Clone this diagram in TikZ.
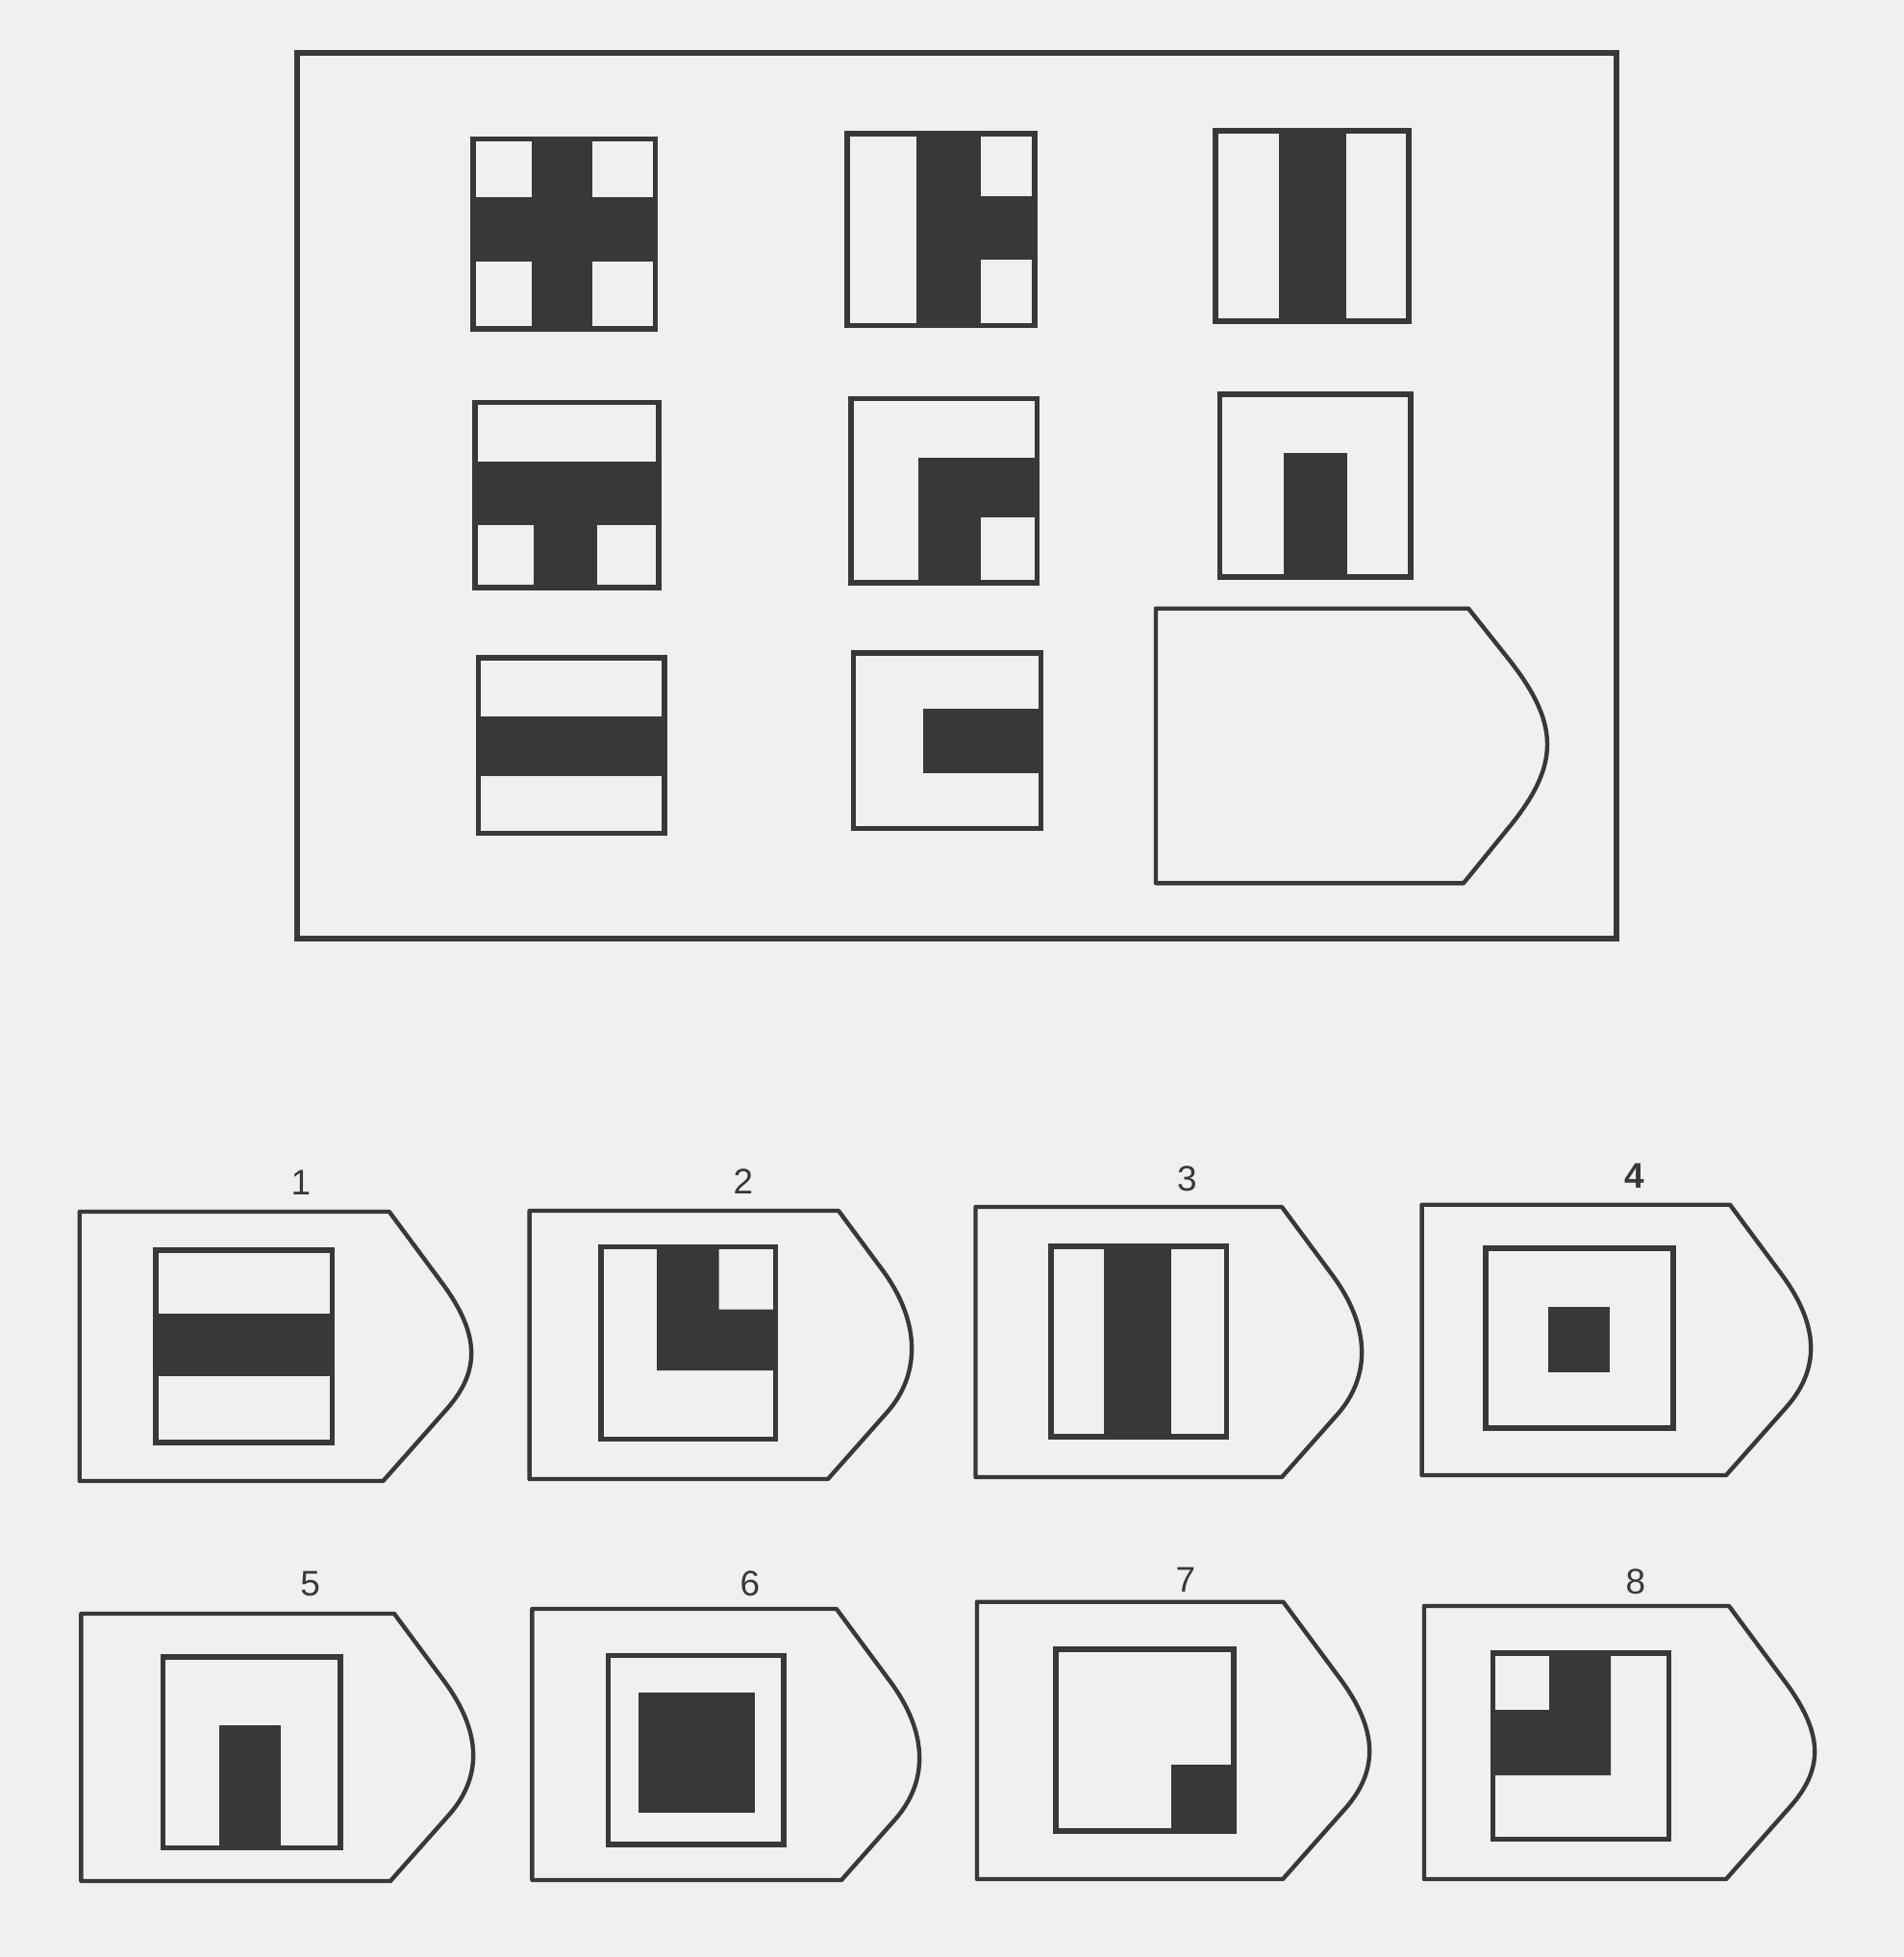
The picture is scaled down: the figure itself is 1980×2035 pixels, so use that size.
\documentclass[tikz,border=0pt]{standalone}
\usepackage{fontspec}
\setmainfont{Liberation Sans}
\definecolor{paper}{HTML}{F0F0F0}
\definecolor{ink}{HTML}{383838}
% #1 left, #2 top, #3 x of top-right corner, #4 x of bulge, #5 x of bottom-right corner, #6 bottom
\newcommand\shield[6]{%
  \draw[shieldline] (#1,#2) -- (#3,#2)
    -- ({#4+9.5-40},{#2+1.35*(#4+9.5-#3)-54})
    .. controls ({#4+9.5},{#2+1.35*(#4+9.5-#3)}) and ({#4+9.5},{#6-1.13*(#4+9.5-#5)}) ..
       ({#4+9.5-35},{#6-1.13*(#4+9.5-#5)+39.6})
    -- (#5,#6) -- (#1,#6) -- cycle;}
\tikzset{
  boxline/.style={draw=ink, line width=1.55pt},
  shieldline/.style={draw=ink, line width=1.25pt, line join=round},
  frameline/.style={draw=ink, line width=1.5pt},
  solid fill/.style={fill=ink},
  numlabel/.style={inner sep=0pt, text=ink, font=\fontsize{10.5}{12}\selectfont},
}
\begin{document}
\begin{tikzpicture}[x=0.01cm, y=-0.01cm]
\useasboundingbox[fill=paper] (0,0) rectangle (1980,2035);

% ---------- top frame ----------
\draw[frameline] (309,55) rectangle (1681,976);

% row 1
\fill[solid fill] (553,144.5) rectangle (616,342);
\fill[solid fill] (492,204.5) rectangle (681.5,272);
\draw[boxline] (492,144.5) rectangle (681.5,342);

\fill[solid fill] (953,139) rectangle (1020,338.5);
\fill[solid fill] (1020,204) rectangle (1076,270);
\draw[boxline] (881,139) rectangle (1076,338.5);

\fill[solid fill] (1330,136) rectangle (1400,334);
\draw[boxline] (1264,136) rectangle (1465,334);

% row 2
\fill[solid fill] (494,479.5) rectangle (685,546);
\fill[solid fill] (555,546) rectangle (620.5,611);
\draw[boxline] (494,418.5) rectangle (685,611);

\fill[solid fill] (955,476) rectangle (1078.5,537.7);
\fill[solid fill] (955,537.7) rectangle (1020,606);
\draw[boxline] (885,414.6) rectangle (1078.5,606);

\fill[solid fill] (1335,470.7) rectangle (1400.5,600);
\draw[boxline] (1268.7,410) rectangle (1467,600);

% row 3
\fill[solid fill] (497.4,745) rectangle (691,806.7);
\draw[boxline] (497.4,684) rectangle (691,866.7);

\fill[solid fill] (960.4,737) rectangle (1082.7,804);
\draw[boxline] (887.7,679) rectangle (1082.7,861.7);

% empty answer slot
\draw[shieldline] (1202,632.7) -- (1527,632.7) -- (1567,683)
  .. controls (1623,753) and (1623,795.8) .. (1567,863)
  -- (1522,918.3) -- (1202,918.3) -- cycle;

% ---------- answers ----------
% 1
\node[numlabel] (n1) at (313,1230) {1};
\shield{82.7}{1260}{404.8}{490}{398.4}{1540}
\fill[solid fill] (162,1365.7) rectangle (345.6,1430.7);
\draw[boxline] (162,1300) rectangle (345.6,1500);

% 2
\node[numlabel] (n2) at (773,1229) {2};
\shield{550.6}{1259}{872}{948}{861}{1538}
\fill[solid fill] (683,1296.7) -- (747.5,1296.7) -- (747.5,1361.7) -- (806.6,1361.7)
  -- (806.6,1425) -- (683,1425) -- cycle;
\draw[boxline] (625,1296.7) rectangle (806.6,1496.7);

% 3
\node[numlabel] (n3) at (1234.5,1226) {3};
\shield{1014.5}{1255}{1333}{1416}{1333}{1536}
\fill[solid fill] (1148.4,1296) rectangle (1217.5,1494);
\draw[boxline] (1093,1296) rectangle (1275.7,1494);

% 4
\node[numlabel] (n4) at (1700,1223) {\bfseries 4};
\shield{1478.6}{1252.7}{1799}{1883}{1795}{1534}
\fill[solid fill] (1610,1359) rectangle (1673.7,1426.7);
\draw[boxline] (1545,1298) rectangle (1740,1485);

% 5
\node[numlabel] (n5) at (322.7,1646.7) {5};
\shield{84.4}{1678}{410}{492}{406}{1956}
\fill[solid fill] (228,1794) rectangle (292,1921.7);
\draw[boxline] (169.4,1723) rectangle (354,1921.7);

% 6
\node[numlabel] (n6) at (780,1646.7) {6};
\shield{553.4}{1673}{869.8}{956}{875}{1955}
\fill[solid fill] (664,1760) rectangle (785,1885);
\draw[boxline] (632.6,1721.7) rectangle (815,1918);

% 7
\node[numlabel] (n7) at (1233,1643) {7};
\shield{1016}{1665.7}{1334.4}{1424}{1334}{1954}
\fill[solid fill] (1217.5,1835) rectangle (1283,1904);
\draw[boxline] (1098,1715) rectangle (1283,1904);

% 8
\node[numlabel] (n8) at (1701,1645) {8};
\shield{1481}{1670}{1798}{1887}{1795}{1954}
\fill[solid fill] (1611,1719) -- (1675,1719) -- (1675,1846) -- (1552.6,1846)
  -- (1552.6,1778) -- (1611,1778) -- cycle;
\draw[boxline] (1552.6,1719) rectangle (1735.5,1912.7);
\end{tikzpicture}
\end{document}
